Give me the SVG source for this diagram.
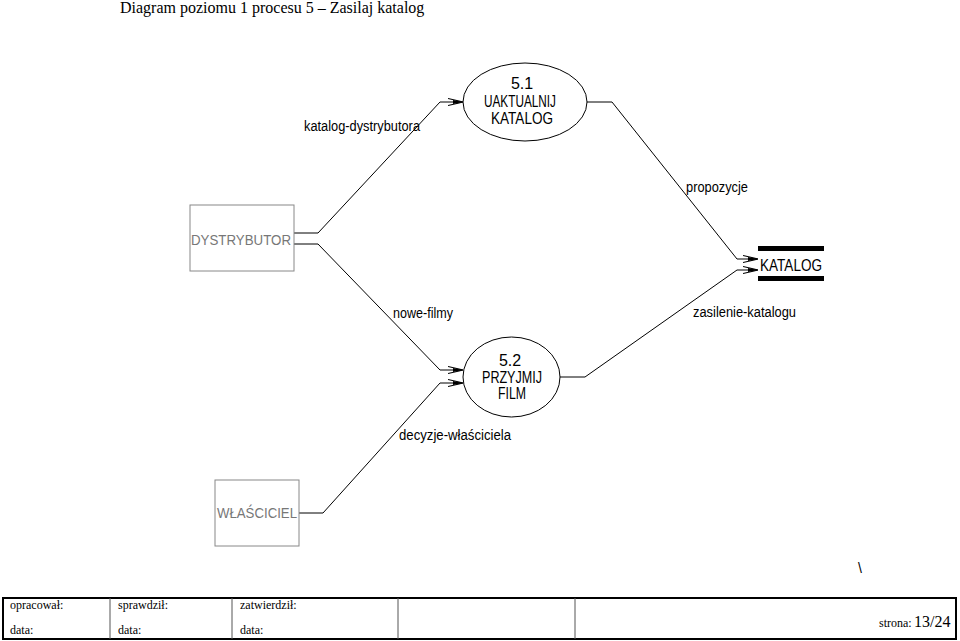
<svg xmlns="http://www.w3.org/2000/svg" width="960" height="641" viewBox="0 0 960 641">
<style>
.title{font-family:"Liberation Serif",serif;font-size:16px;fill:#000}
.lbl{font-family:"Liberation Sans",Arial,sans-serif;font-size:14px;fill:#000}
.ptxt{font-family:"Liberation Sans",Arial,sans-serif;font-size:16px;fill:#000;text-anchor:middle}
.etxt{font-family:"Liberation Sans",Arial,sans-serif;font-size:15px;fill:#777;text-anchor:middle}
.ent{fill:#fff;stroke:#888;stroke-width:1}
.proc{fill:#fff;stroke:#000;stroke-width:1}
.flow{fill:none;stroke:#000;stroke-width:1;marker-end:url(#arr)}
.ft{font-family:"Liberation Serif",serif;font-size:12px;fill:#000}
.grid{stroke:#555;stroke-width:1}
</style>
<defs>
<marker id="arr" markerUnits="userSpaceOnUse" viewBox="-15 -5 15 10" refX="0" refY="0" markerWidth="15" markerHeight="10" orient="auto">
<path d="M-15,-3.5 L-4,-1 L0,0 L-4,1 L-15,3.5" fill="none" stroke="#000" stroke-width="1.2"/>
<path d="M-10,-2 L0,0 L-10,2 Z" fill="#000"/>
</marker>
</defs>
<rect width="960" height="641" fill="#fff"/>
<text class="title" x="120" y="13">Diagram poziomu 1 procesu 5 – Zasilaj katalog</text>

<g id="connectors">
<polyline class="flow" points="294,233 318,233 440,102 463,102"/>
<polyline class="flow" points="294,244 318,244 440,370 463,370"/>
<polyline class="flow" points="299,513 323,513 440,383 463,383"/>
<polyline class="flow" points="587,102 612,102 737,259 758,259"/>
<polyline class="flow" points="560,377 585,377 737,270 758,270"/>
<text class="lbl" x="304" y="131" textLength="116" lengthAdjust="spacingAndGlyphs">katalog-dystrybutora</text>
<text class="lbl" x="393" y="318" textLength="60" lengthAdjust="spacingAndGlyphs">nowe-filmy</text>
<text class="lbl" x="399" y="440" textLength="112" lengthAdjust="spacingAndGlyphs">decyzje-właściciela</text>
<text class="lbl" x="686" y="192" textLength="62" lengthAdjust="spacingAndGlyphs">propozycje</text>
<text class="lbl" x="693" y="317" textLength="103" lengthAdjust="spacingAndGlyphs">zasilenie-katalogu</text>
</g>

<g id="p51">
<ellipse class="proc" cx="525" cy="102" rx="62" ry="39"/>
<text class="ptxt" x="522" y="89">5.1</text>
<text class="ptxt" x="520" y="107" textLength="72" lengthAdjust="spacingAndGlyphs">UAKTUALNIJ</text>
<text class="ptxt" x="522" y="124" textLength="62" lengthAdjust="spacingAndGlyphs">KATALOG</text>
</g>

<g id="p52">
<ellipse class="proc" cx="511.5" cy="377" rx="48.5" ry="40"/>
<text class="ptxt" x="510" y="366">5.2</text>
<text class="ptxt" x="512" y="383" textLength="60" lengthAdjust="spacingAndGlyphs">PRZYJMIJ</text>
<text class="ptxt" x="512" y="399" textLength="28" lengthAdjust="spacingAndGlyphs">FILM</text>
</g>

<g id="dystrybutor">
<rect class="ent" x="190" y="205" width="104" height="66"/>
<text class="etxt" x="241" y="245" textLength="100" lengthAdjust="spacingAndGlyphs">DYSTRYBUTOR</text>
</g>

<g id="wlasciciel">
<rect class="ent" x="215" y="480" width="84" height="66"/>
<text class="etxt" x="257" y="518" textLength="80" lengthAdjust="spacingAndGlyphs">WŁAŚCICIEL</text>
</g>

<g id="katalog">
<rect x="758" y="246" width="66" height="5" fill="#000"/>
<rect x="758" y="276" width="66" height="5" fill="#000"/>
<text class="ptxt" x="791" y="271" textLength="62" lengthAdjust="spacingAndGlyphs">KATALOG</text>
</g>

<text class="lbl" x="858" y="573" font-size="14">\</text>

<g id="footer">
<rect x="3" y="598" width="953" height="41" fill="none" stroke="#000" stroke-width="2"/>
<line class="grid" x1="110" y1="598" x2="110" y2="639"/>
<line class="grid" x1="232" y1="598" x2="232" y2="639"/>
<line class="grid" x1="398" y1="598" x2="398" y2="639"/>
<line class="grid" x1="575" y1="598" x2="575" y2="639"/>
<text class="ft" x="10" y="609">opracował:</text>
<text class="ft" x="10" y="634">data:</text>
<text class="ft" x="118" y="609">sprawdził:</text>
<text class="ft" x="118" y="634">data:</text>
<text class="ft" x="240" y="609">zatwierdził:</text>
<text class="ft" x="240" y="634">data:</text>
<text class="ft" x="879" y="627" font-size="10.5">strona:</text>
<text class="title" x="914" y="627">13/24</text>
</g>
</svg>
